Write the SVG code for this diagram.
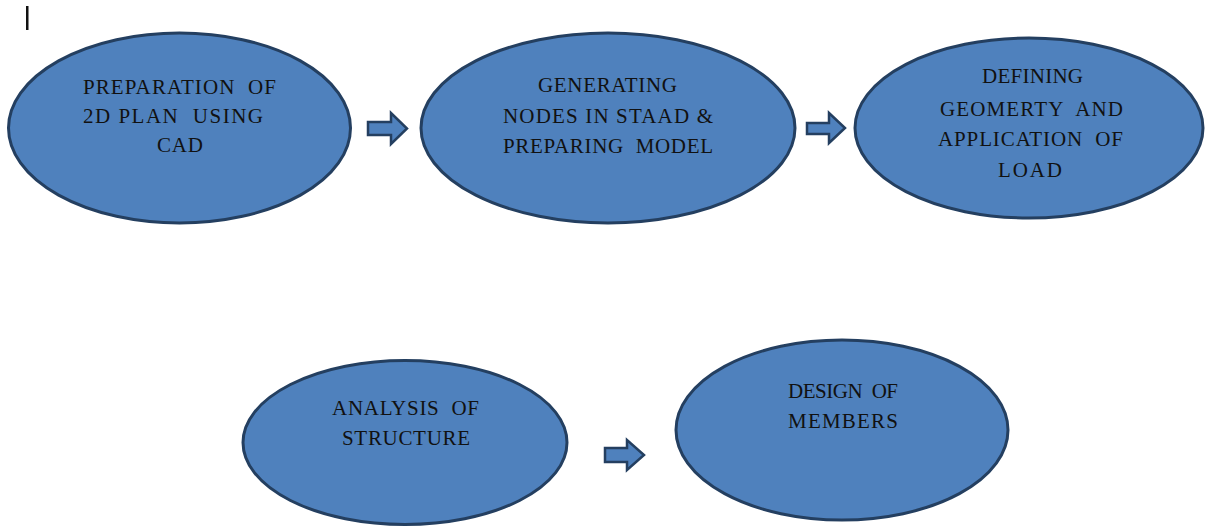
<svg xmlns="http://www.w3.org/2000/svg" width="1206" height="527" viewBox="0 0 1206 527">
<style>
.node ellipse{fill:#4F81BD;stroke:#243F60;stroke-width:3}
.node text{font-family:"Liberation Serif","Times New Roman",serif;font-size:21px;fill:#111;text-anchor:middle;white-space:pre}
.arrow{fill:#4F81BD;stroke:#243F60;stroke-width:2.5;stroke-linejoin:miter}
</style>
<rect x="0" y="0" width="1206" height="527" fill="#fff"/>
<rect x="26" y="6" width="2.5" height="24" fill="#111"/>
<g id="n1" class="node">
<ellipse cx="179.5" cy="128" rx="171" ry="95"/>
<text x="179.5" y="94" textLength="193" lengthAdjust="spacing" xml:space="preserve">PREPARATION  OF</text>
<text x="173" y="123" textLength="180" lengthAdjust="spacing" xml:space="preserve">2D PLAN  USING</text>
<text x="180" y="152" textLength="46" lengthAdjust="spacing">CAD</text>
</g>
<g id="n2" class="node">
<ellipse cx="608" cy="128" rx="187" ry="95"/>
<text x="607.5" y="92" textLength="139" lengthAdjust="spacing">GENERATING</text>
<text x="608" y="123" textLength="210" lengthAdjust="spacing">NODES IN STAAD &amp;</text>
<text x="608" y="153" textLength="210" lengthAdjust="spacing" xml:space="preserve">PREPARING  MODEL</text>
</g>
<g id="n3" class="node">
<ellipse cx="1029" cy="128" rx="174" ry="90"/>
<text x="1032.5" y="83" textLength="101" lengthAdjust="spacing">DEFINING</text>
<text x="1031.5" y="116" textLength="183" lengthAdjust="spacing" xml:space="preserve">GEOMERTY  AND</text>
<text x="1030.5" y="146" textLength="185" lengthAdjust="spacing" xml:space="preserve">APPLICATION  OF</text>
<text x="1030" y="177" textLength="64" lengthAdjust="spacing">LOAD</text>
</g>
<g id="n4" class="node">
<ellipse cx="405" cy="442.5" rx="162" ry="82"/>
<text x="405.5" y="415" textLength="147" lengthAdjust="spacing" xml:space="preserve">ANALYSIS  OF</text>
<text x="406" y="445" textLength="128" lengthAdjust="spacing">STRUCTURE</text>
</g>
<g id="n5" class="node">
<ellipse cx="842" cy="430" rx="166" ry="90"/>
<text x="843" y="398" textLength="110" lengthAdjust="spacing" xml:space="preserve">DESIGN  OF</text>
<text x="843" y="428" textLength="110" lengthAdjust="spacing">MEMBERS</text>
</g>
<g id="connectors">
<path class="arrow" d="M368,122 H391 V113 L407,128.5 L391,144 V135 H368 Z"/>
<path class="arrow" d="M807,123 H829 V113 L845,128 L829,143 V134 H807 Z"/>
<path class="arrow" d="M605,448 H627 V440 L644,455 L627,470 V462 H605 Z"/>
</g>
</svg>
